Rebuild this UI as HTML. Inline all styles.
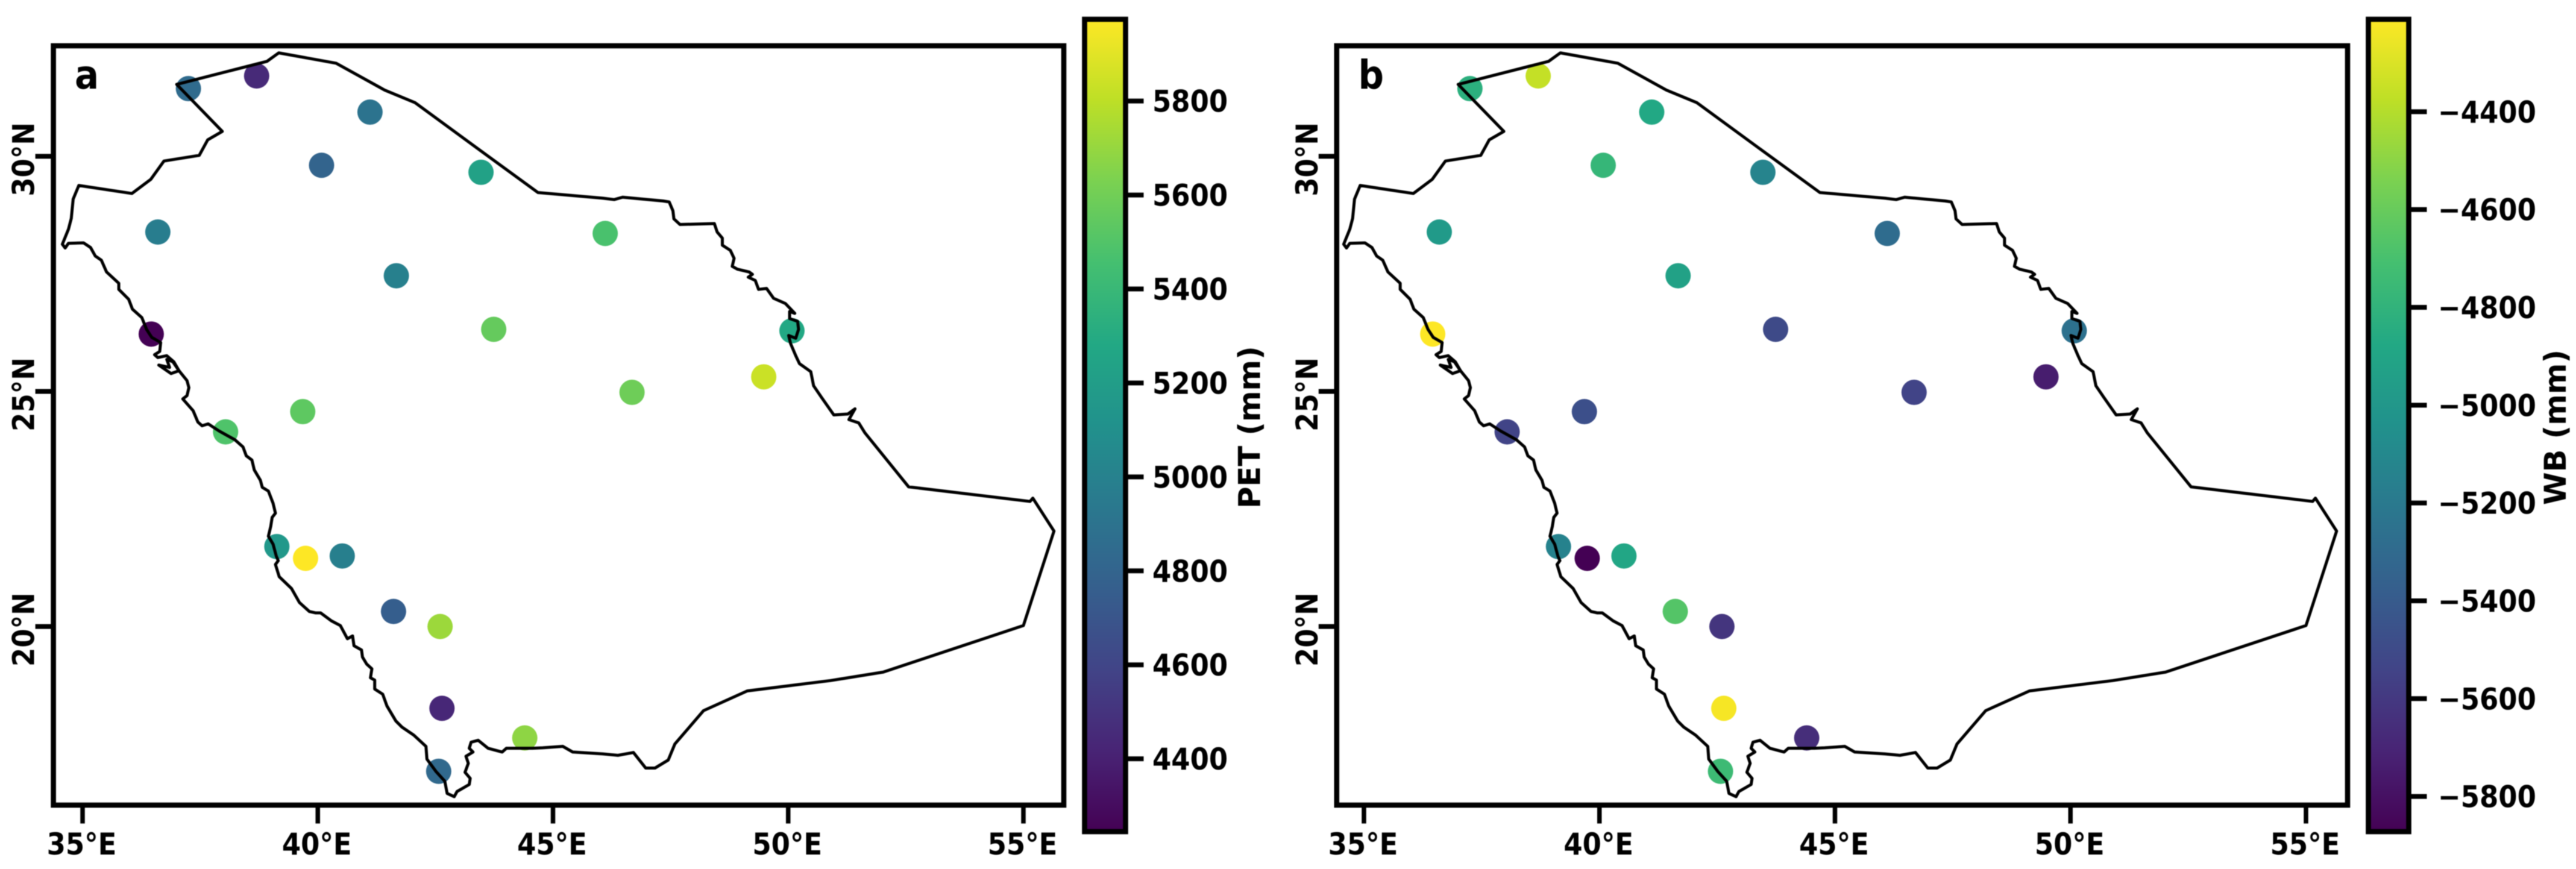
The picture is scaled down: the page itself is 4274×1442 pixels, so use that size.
<!DOCTYPE html>
<html lang="en">
<head>
<meta charset="utf-8">
<title>PET and WB station maps</title>
<style>
html,body{margin:0;padding:0;background:#fff;width:4274px;height:1442px;overflow:hidden}
svg{display:block;filter:blur(0.8px)}
text{font-family:"DejaVu Sans","Liberation Sans",sans-serif;font-weight:bold;fill:#000}
</style>
</head>
<body>
<svg id="chart" xmlns="http://www.w3.org/2000/svg" width="4274" height="1442" viewBox="0 0 4274 1442">
<rect x="0" y="0" width="4274" height="1442" fill="#fff"></rect>
</svg>
<script>
const lonTicks = [35, 40, 45, 50, 55];
const latTicks = [20, 25, 30];
const stationLons = [37.25, 38.70, 41.11, 40.08, 43.47, 36.60, 41.67, 43.74, 36.46, 46.11, 50.08, 46.68, 49.48, 39.68, 38.04, 39.13, 39.74, 40.52, 41.61, 42.60, 42.64, 44.40, 42.57];
const stationLats = [31.44, 31.71, 30.94, 29.81, 29.66, 28.39, 27.46, 26.32, 26.22, 28.36, 26.29, 24.98, 25.31, 24.57, 24.14, 21.70, 21.45, 21.50, 20.32, 20.00, 18.26, 17.63, 16.92];
const petValues = [4850, 4450, 4900, 4800, 5230, 4970, 4990, 5560, 4245, 5470, 5280, 5590, 5835, 5540, 5490, 5160, 5974, 4985, 4760, 5715, 4435, 5680, 4830];
const wbValues = [-4825, -4360, -4875, -4776, -5125, -4975, -4925, -5505, -4211, -5290, -5257, -5540, -5740, -5470, -5540, -5140, -5872, -4890, -4660, -5620, -4228, -5656, -4742];
const petTicks = [4400, 4600, 4800, 5000, 5200, 5400, 5600, 5800];
const wbTicks = [-5800, -5600, -5400, -5200, -5000, -4800, -4600, -4400];
const coastLons = [34.57, 34.70, 34.76, 34.80, 34.92, 36.05, 36.45, 36.73, 37.48, 37.66, 37.97, 37.00, 38.92, 39.17, 40.39, 41.42, 42.07, 43.46, 44.68, 46.06, 46.30, 46.48, 47.34, 47.47, 47.55, 47.57, 47.70, 48.43, 48.49, 48.60, 48.60, 48.77, 48.85, 48.81, 48.92, 49.17, 49.24, 49.15, 49.30, 49.37, 49.54, 49.69, 49.94, 50.14, 50.03, 50.03, 50.20, 50.22, 50.16, 50.01, 50.05, 50.16, 50.24, 50.48, 50.54, 50.71, 50.97, 51.27, 51.42, 51.29, 51.50, 51.63, 52.56, 55.14, 55.20, 55.65, 55.00, 52.02, 50.90, 49.13, 48.20, 47.59, 47.45, 47.17, 46.97, 46.71, 46.38, 46.06, 45.42, 45.21, 44.78, 44.56, 44.01, 43.92, 43.62, 43.41, 43.26, 43.22, 43.30, 43.15, 43.20, 43.13, 43.24, 43.22, 42.96, 42.90, 42.75, 42.70, 42.51, 42.32, 42.30, 42.04, 41.79, 41.66, 41.47, 41.38, 41.21, 41.21, 41.12, 41.15, 41.04, 40.95, 40.93, 40.77, 40.74, 40.63, 40.48, 40.29, 40.06, 39.95, 39.82, 39.61, 39.44, 39.18, 39.10, 39.16, 39.12, 39.05, 38.95, 39.00, 39.03, 39.10, 39.05, 38.95, 38.82, 38.78, 38.65, 38.60, 38.48, 38.41, 38.24, 37.90, 37.67, 37.54, 37.45, 37.35, 37.13, 37.22, 37.26, 37.22, 37.05, 36.94, 36.79, 36.60, 36.53, 36.64, 36.66, 36.47, 36.36, 36.26, 36.06, 35.98, 35.77, 35.77, 35.51, 35.40, 35.27, 35.17, 35.02, 34.70, 34.63];
const coastLats = [28.13, 28.45, 28.68, 29.09, 29.38, 29.21, 29.51, 29.90, 30.02, 30.35, 30.53, 31.53, 32.02, 32.20, 31.98, 31.41, 31.14, 30.12, 29.23, 29.11, 29.08, 29.13, 29.05, 29.03, 28.84, 28.67, 28.55, 28.57, 28.39, 28.26, 28.11, 28.00, 27.83, 27.66, 27.60, 27.54, 27.49, 27.43, 27.36, 27.17, 27.19, 26.98, 26.87, 26.66, 26.70, 26.55, 26.49, 26.32, 26.13, 26.19, 26.02, 25.76, 25.59, 25.42, 25.12, 24.87, 24.50, 24.52, 24.63, 24.40, 24.33, 24.12, 22.97, 22.66, 22.73, 22.03, 20.02, 19.03, 18.85, 18.63, 18.21, 17.50, 17.16, 16.99, 16.99, 17.32, 17.26, 17.29, 17.33, 17.45, 17.42, 17.41, 17.41, 17.33, 17.41, 17.58, 17.54, 17.41, 17.33, 17.24, 17.09, 16.90, 16.77, 16.64, 16.49, 16.38, 16.45, 16.71, 16.92, 17.18, 17.45, 17.69, 17.86, 17.99, 18.31, 18.56, 18.67, 18.86, 18.91, 19.10, 19.20, 19.35, 19.50, 19.59, 19.80, 19.74, 20.02, 20.12, 20.29, 20.29, 20.32, 20.51, 20.81, 21.06, 21.32, 21.40, 21.49, 21.75, 21.92, 22.13, 22.32, 22.41, 22.62, 22.88, 22.96, 23.11, 23.33, 23.54, 23.63, 23.82, 23.97, 24.16, 24.31, 24.27, 24.35, 24.59, 24.84, 24.91, 25.08, 25.23, 25.44, 25.63, 25.76, 25.72, 25.78, 25.85, 26.04, 26.15, 26.32, 26.57, 26.75, 26.96, 27.17, 27.30, 27.54, 27.79, 27.88, 28.06, 28.16, 28.15, 28.05];
const islandLons = [36.62, 36.88, 37.05, 36.92, 36.79, 36.85, 36.62];
const islandLats = [25.56, 25.38, 25.44, 25.63, 25.68, 25.51, 25.56];
const viridisStops = ['#440154', '#482475', '#414487', '#355f8d', '#2a788e', '#21918c', '#22a884', '#44bf70', '#7ad151', '#bddf26', '#fde725'];

const SVG_NS = 'http://www.w3.org/2000/svg';
const chart = document.getElementById('chart');

function make(tag, attrs, parent) {
  const el = document.createElementNS(SVG_NS, tag);
  for (const key in attrs) el.setAttribute(key, attrs[key]);
  parent.appendChild(el);
  return el;
}
function hexToRgb(hex) {
  return [1, 3, 5].map(function (i) { return parseInt(hex.slice(i, i + 2), 16); });
}
function viridis(t) {
  const clamped = Math.max(0, Math.min(1, t));
  const pos = clamped * (viridisStops.length - 1);
  const i = Math.min(Math.floor(pos), viridisStops.length - 2);
  const f = pos - i;
  const a = hexToRgb(viridisStops[i]);
  const b = hexToRgb(viridisStops[i + 1]);
  return 'rgb(' + a.map(function (v, k) { return Math.round(v + (b[k] - v) * f); }).join(',') + ')';
}
function formatValue(v) {
  return v < 0 ? '\u2212' + Math.abs(v) : String(v);
}

const TEXT_SQUEEZE = 0.9;
const defs = make('defs', {}, chart);
const gradient = make('linearGradient', { id: 'viridis-ramp', x1: 0, y1: 1, x2: 0, y2: 0 }, defs);
viridisStops.forEach(function (color, i) {
  make('stop', { offset: i / (viridisStops.length - 1), 'stop-color': color }, gradient);
});

function drawPanel(cfg) {
  const g = make('g', {}, chart);
  
  

  const xScale = function (lon) { return cfg.lon35x + (lon - 35) * cfg.pxPerDeg; };
  const yScale = function (lat) { return 259.4 + (30 - lat) * 78.02; };
  const vMin = Math.min.apply(null, cfg.values);
  const vMax = Math.max.apply(null, cfg.values);
  const cbTop = 32;
  const cbBottom = 1380;
  const cbScale = function (v) { return cbTop + (vMax - v) / (vMax - vMin) * (cbBottom - cbTop); };

  stationLons.forEach(function (lon, i) {
    const dot = make('circle', {
      cx: xScale(lon),
      cy: yScale(stationLats[i]),
      r: 21,
      fill: viridis((cfg.values[i] - vMin) / (vMax - vMin))
    }, g);
    
    
  });

  const outlinePoints = coastLons.map(function (lon, i) { return xScale(lon) + ',' + yScale(coastLats[i]); }).join(' ');
  const outline = make('polygon', {
    points: outlinePoints,
    fill: 'none',
    stroke: '#000',
    'stroke-width': 5,
    'stroke-linejoin': 'round'
  }, g);
  
  

  const islandPoints = islandLons.map(function (lon, i) { return xScale(lon) + ',' + yScale(islandLats[i]); }).join(' ');
  const island = make('polygon', {
    points: islandPoints,
    fill: 'none',
    stroke: '#000',
    'stroke-width': 5,
    'stroke-linejoin': 'round'
  }, g);
  
  

  const frame = make('rect', {
    x: cfg.left,
    y: 76,
    width: cfg.right - cfg.left,
    height: 1260,
    fill: 'none',
    stroke: '#000',
    'stroke-width': 8.6
  }, g);
  
  

  lonTicks.forEach(function (lon) {
    const x = xScale(lon);
    const tick = make('line', { x1: x, x2: x, y1: 1340, y2: 1366.5, stroke: '#000', 'stroke-width': 7.5 }, g);
    
    
    const label = make('text', {
      transform: 'translate(' + (x - 1.5) + ',1418) scale(' + TEXT_SQUEEZE + ',1)',
      'text-anchor': 'middle',
      'font-size': 50
    }, g);
    label.textContent = lon + '\u00B0E';
    
    
  });

  latTicks.forEach(function (lat) {
    const y = yScale(lat);
    const tick = make('line', { x1: cfg.left - 30, x2: cfg.left - 4, y1: y, y2: y, stroke: '#000', 'stroke-width': 8 }, g);
    
    
    const label = make('text', {
      transform: 'translate(' + (cfg.left - 32) + ',' + (y + 5) + ') rotate(-90) scale(' + TEXT_SQUEEZE + ',1)',
      'text-anchor': 'middle',
      'font-size': 50
    }, g);
    label.textContent = lat + '\u00B0N';
    
    
  });

  const letter = make('text', {
    transform: 'translate(' + cfg.letterX + ',147) scale(' + TEXT_SQUEEZE + ',1)',
    'font-size': 66
  }, g);
  letter.textContent = cfg.letter;
  
  

  const bar = make('rect', {
    x: cfg.cbLeft,
    y: cbTop,
    width: cfg.cbWidth,
    height: cbBottom - cbTop,
    fill: 'url(#viridis-ramp)',
    stroke: '#000',
    'stroke-width': 8.6
  }, g);
  
  

  cfg.ticks.forEach(function (v) {
    const y = cbScale(v);
    const tick = make('line', {
      x1: cfg.cbLeft + cfg.cbWidth + 4,
      x2: cfg.cbLeft + cfg.cbWidth + 30,
      y1: y,
      y2: y,
      stroke: '#000',
      'stroke-width': 8
    }, g);
    
    
    const label = make('text', {
      transform: 'translate(' + cfg.cbLabelX + ',' + (y + 18) + ') scale(' + TEXT_SQUEEZE + ',1)',
      'font-size': 50
    }, g);
    label.textContent = formatValue(v);
    
    
  });

  const title = make('text', {
    transform: 'translate(' + cfg.titleX + ',' + cfg.titleY + ') rotate(-90)',
    'text-anchor': 'middle',
    'font-size': 49.5
  }, g);
  title.textContent = cfg.title;
  
  
}

drawPanel({
  id: 'pet',
  letter: 'a',
  title: 'PET (mm)',
  values: petValues,
  ticks: petTicks,
  lon35x: 137,
  pxPerDeg: 78.05,
  left: 88.6,
  right: 1765,
  letterX: 124,
  cbLeft: 1799.5,
  cbWidth: 68,
  cbLabelX: 1912,
  titleX: 2090.6,
  titleY: 709
});
drawPanel({
  id: 'wb',
  letter: 'b',
  title: 'WB (mm)',
  values: wbValues,
  ticks: wbTicks,
  lon35x: 2263,
  pxPerDeg: 78.15,
  left: 2217.8,
  right: 3895,
  letterX: 2253.5,
  cbLeft: 3929.5,
  cbWidth: 67,
  cbLabelX: 4045,
  titleX: 4257,
  titleY: 709
});
</script>
</body>
</html>
